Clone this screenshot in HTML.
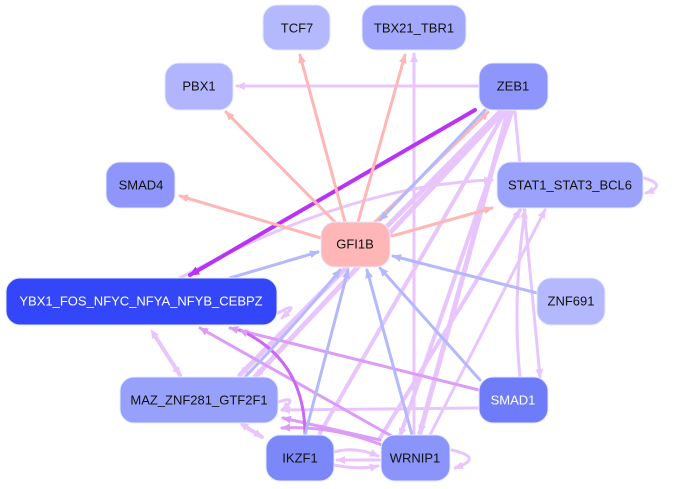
<!DOCTYPE html>
<html><head><meta charset="utf-8"><style>
html,body{margin:0;padding:0;background:#fff;}
svg{display:block;font-family:"Liberation Sans",sans-serif;}
</style></head><body>
<svg width="675" height="489" viewBox="0 0 675 489" xmlns="http://www.w3.org/2000/svg">
<defs>
<marker id="mp" markerWidth="9" markerHeight="8" refX="8" refY="4" orient="auto" markerUnits="userSpaceOnUse"><path d="M0,0L9,4L0,8z" fill="#ffb6b6"/></marker>
<marker id="mb" markerWidth="9" markerHeight="8" refX="8" refY="4" orient="auto" markerUnits="userSpaceOnUse"><path d="M0,0L9,4L0,8z" fill="#b4b8fd"/></marker>
<marker id="ml" markerWidth="9" markerHeight="8" refX="8" refY="4" orient="auto" markerUnits="userSpaceOnUse"><path d="M0,0L9,4L0,8z" fill="#e8c6fd"/></marker>
<marker id="mm" markerWidth="9" markerHeight="8" refX="8" refY="4" orient="auto" markerUnits="userSpaceOnUse"><path d="M0,0L9,4L0,8z" fill="#dc9cf8"/></marker>
<marker id="md" markerWidth="10" markerHeight="9" refX="9" refY="4.5" orient="auto" markerUnits="userSpaceOnUse"><path d="M0,0L10,4.5L0,9z" fill="#b833f5"/></marker>
<marker id="ms" markerWidth="9" markerHeight="8" refX="1" refY="4" orient="auto-start-reverse" markerUnits="userSpaceOnUse"><path d="M0,0L9,4L0,8z" fill="#e8c6fd"/></marker>
</defs>
<g fill="none" stroke-linecap="round">
<g stroke="#e8c6fd" stroke-width="3" marker-end="url(#ml)">
<path d="M479,86 L237,86"/>
<path d="M414,435 L414,54"/>
<path d="M500,112 L240,375" stroke-width="5"/>
<path d="M503,112 L255,377" stroke-width="5"/>
<path d="M505,112 L320,433" stroke-width="4"/>
<path d="M508,112 L420,433" stroke-width="5"/>
<path d="M512,112 L400,436" stroke-width="4"/>
<path d="M515,112 L540,377"/>
<path d="M180,278 Q350,185 492,180"/>
<path d="M644,178 Q668,185 646,193"/>
<path d="M520,377 Q512,300 525,210"/>
<path d="M430,435 L545,210"/>
<path d="M380,438 L520,210" stroke-width="4"/>
<path d="M479,408 L282,410"/>
<path d="M278,313 Q302,300 282,318"/>
<path d="M452,450 Q485,458 455,468"/>
<path d="M334,452 Q355,446 378,456"/>
<path d="M334,465 Q360,470 378,466"/>
<path d="M380,460 L337,460"/>
<path d="M278,402 Q300,395 282,410"/>
</g>
<path d="M155,336 L180,375" stroke="#e8c6fd" stroke-width="4" marker-end="url(#ml)" marker-start="url(#ms)"/>
<path d="M246,427 L262,437" stroke="#e8c6fd" stroke-width="4" marker-end="url(#ml)" marker-start="url(#ms)"/>
<g stroke="#dc9cf8" stroke-width="3" marker-end="url(#mm)">
<path d="M479,390 L230,328"/>
<path d="M395,438 L200,328"/>
<path d="M380,440 L283,418"/>
<path d="M382,445 Q330,425 282,428"/>
</g>
<path d="M305,435 Q305,360 240,330" stroke="#cc66f5" stroke-width="3" marker-end="url(#mm)"/>
<path d="M475,110 L190,275" stroke="#b833f5" stroke-width="4" marker-end="url(#md)"/>
<g stroke="#ffb6b6" stroke-width="3" marker-end="url(#mp)">
<path d="M345,222 L300,55"/>
<path d="M358,222 L405,55"/>
<path d="M335,222 L226,112"/>
<path d="M321,238 L180,196"/>
<path d="M392,236 L492,208"/>
<path d="M375,222 L488,112"/>
</g>
<g stroke="#b4b8fd" stroke-width="3" marker-end="url(#mb)">
<path d="M485,110 L380,220"/>
<path d="M230,278 L318,252"/>
<path d="M537,293 L393,256"/>
<path d="M480,380 L380,268"/>
<path d="M412,435 L367,270"/>
<path d="M305,435 L348,270"/>
<path d="M245,377 Q300,320 340,270"/>
</g>
</g>
<g stroke-width="1" font-size="13" text-anchor="middle" dominant-baseline="central">
<g stroke="#e6e8ff">
<rect x="263" y="5" width="67" height="45" rx="14" fill="#b4b8fd"/>
<rect x="362" y="5" width="104" height="45" rx="14" fill="#a3a8fc"/>
<rect x="165" y="63" width="68" height="47" rx="14" fill="#b0b5fd"/>
<rect x="479" y="63" width="69" height="47" rx="14" fill="#8e96fb"/>
<rect x="106" y="162" width="69" height="46" rx="14" fill="#8e96fb"/>
<rect x="497" y="162" width="146" height="46" rx="14" fill="#9ba2fb"/>
<rect x="321" y="222" width="69" height="45" rx="14" fill="#ffb6b6"/>
<rect x="6" y="278" width="271" height="47" rx="14" fill="#3446f9"/>
<rect x="537" y="278" width="68" height="47" rx="14" fill="#b4b8fd"/>
<rect x="120" y="377" width="158" height="46" rx="14" fill="#97a0fb"/>
<rect x="479" y="377" width="69" height="46" rx="14" fill="#6f7cfa"/>
<rect x="266" y="435" width="68" height="46" rx="14" fill="#7c88f9"/>
<rect x="381" y="435" width="69" height="46" rx="14" fill="#8a94fa"/>
</g>
<g fill="#111">
<text x="297" y="28">TCF7</text>
<text x="414" y="28">TBX21_TBR1</text>
<text x="199" y="86">PBX1</text>
<text x="513" y="86">ZEB1</text>
<text x="141" y="185">SMAD4</text>
<text x="570" y="185">STAT1_STAT3_BCL6</text>
<text x="355" y="244">GFI1B</text>
<text x="571" y="301">ZNF691</text>
<text x="199" y="400">MAZ_ZNF281_GTF2F1</text>
<text x="300" y="458">IKZF1</text>
<text x="415" y="458">WRNIP1</text>
</g>
<g fill="#fff">
<text x="141" y="301">YBX1_FOS_NFYC_NFYA_NFYB_CEBPZ</text>
<text x="513" y="400">SMAD1</text>
</g>
</g>
</svg>
</body></html>
